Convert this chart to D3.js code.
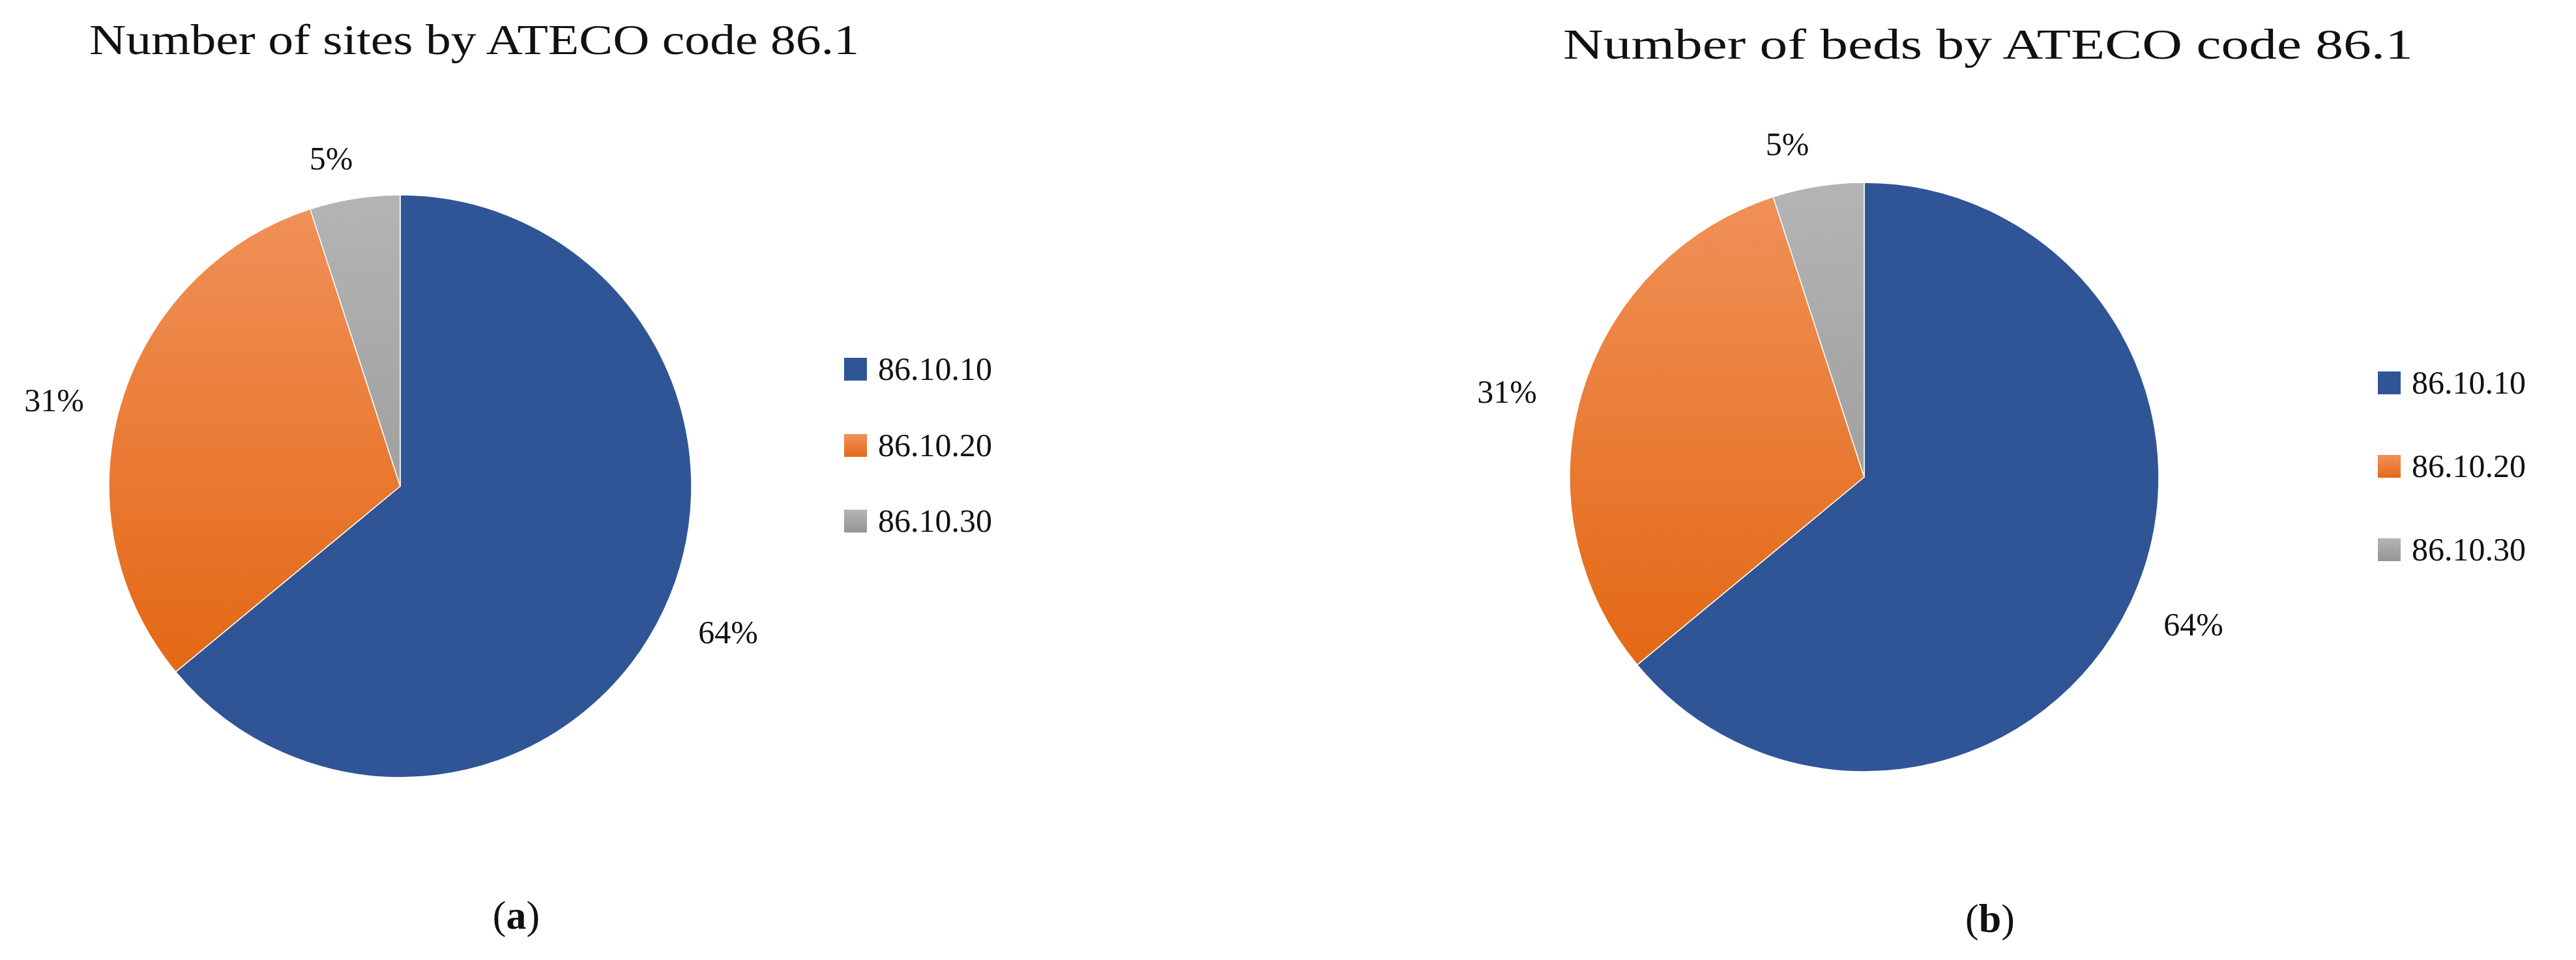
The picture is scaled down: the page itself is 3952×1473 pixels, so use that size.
<!DOCTYPE html>
<html><head><meta charset="utf-8">
<script src="https://cdn.jsdelivr.net/npm/d3@7"></script>
<style>body{margin:0;background:#fff}text{font-family:"Liberation Serif","DejaVu Serif",serif;fill:#111}</style>
</head><body><svg id="c" width="3952" height="1473"></svg>
<script>
const categories = ["86.10.10","86.10.20","86.10.30"];
const sitesValues = [64,31,5];
const bedsValues = [64,31,5];
const titles = ["Number of sites by ATECO code 86.1","Number of beds by ATECO code 86.1"];
const panelLabels = ["a","b"];

const svg = d3.select("#c");
const defs = svg.append("defs");
const grads = [["#2f5597","#2f5597"],["#f1915a","#e46a18"],["#b4b4b4","#959595"]];
grads.forEach((g,i)=>{
  const lg = defs.append("linearGradient").attr("id","g"+i).attr("x1",0).attr("y1",0).attr("x2",0).attr("y2",1);
  lg.append("stop").attr("offset","0%").attr("stop-color",g[0]);
  lg.append("stop").attr("offset","100%").attr("stop-color",g[1]);
});
const panels = [
  {vals:sitesValues,cx:614,cy:746,r:447,title:titles[0],tx:137,ty:83,tw:1181,
   lab:[[1117,987],[83,631],[508,260]],lx:1295,ly:[566,683,799],pl:792,pb:1425},
  {vals:bedsValues,cx:2860,cy:732,r:452,title:titles[1],tx:2398,ty:90,tw:1304,
   lab:[[3365,975],[2312,618],[2742,238]],lx:3648,ly:[587,715,843],pl:3053,pb:1430}
];
const pie = d3.pie().sort(null).value(d=>d);
panels.forEach((p,pi)=>{
  const g = svg.append("g").attr("transform",`translate(${p.cx},${p.cy})`);
  const arc = d3.arc().innerRadius(0).outerRadius(p.r);
  const arcs = pie(p.vals);
  arcs.forEach((a,i)=>{
    // gradient in user space per slice
    const gid = `p${pi}s${i}`;
    const lg = defs.append("linearGradient").attr("id",gid).attr("gradientUnits","userSpaceOnUse")
      .attr("x1",0).attr("y1",-p.r).attr("x2",0).attr("y2",p.r*0.55);
    lg.append("stop").attr("offset","0%").attr("stop-color",grads[i][0]);
    lg.append("stop").attr("offset","100%").attr("stop-color",grads[i][1]);
    g.append("path").attr("d",arc(a)).attr("fill",`url(#${gid})`).attr("stroke","#fff").attr("stroke-width",1.5);
  });
  svg.append("text").attr("x",p.tx).attr("y",p.ty).attr("font-size",66)
    .attr("textLength",p.tw).attr("lengthAdjust","spacingAndGlyphs").text(p.title);
  arcs.forEach((a,i)=>{
    svg.append("text").attr("x",p.lab[i][0]).attr("y",p.lab[i][1]).attr("text-anchor","middle")
      .attr("font-size",50).text(p.vals[i]+"%");
  });
  categories.forEach((c,i)=>{
    svg.append("rect").attr("x",p.lx).attr("y",p.ly[i]-17).attr("width",35).attr("height",35).attr("fill",`url(#g${i})`);
    svg.append("text").attr("x",p.lx+52).attr("y",p.ly[i]+17).attr("font-size",50).text(c);
  });
  const t = svg.append("text").attr("x",p.pl).attr("y",p.pb).attr("text-anchor","middle").attr("font-size",62);
  t.append("tspan").text("(");
  t.append("tspan").attr("font-weight","bold").text(panelLabels[pi]);
  t.append("tspan").text(")");
});
</script></body></html>
